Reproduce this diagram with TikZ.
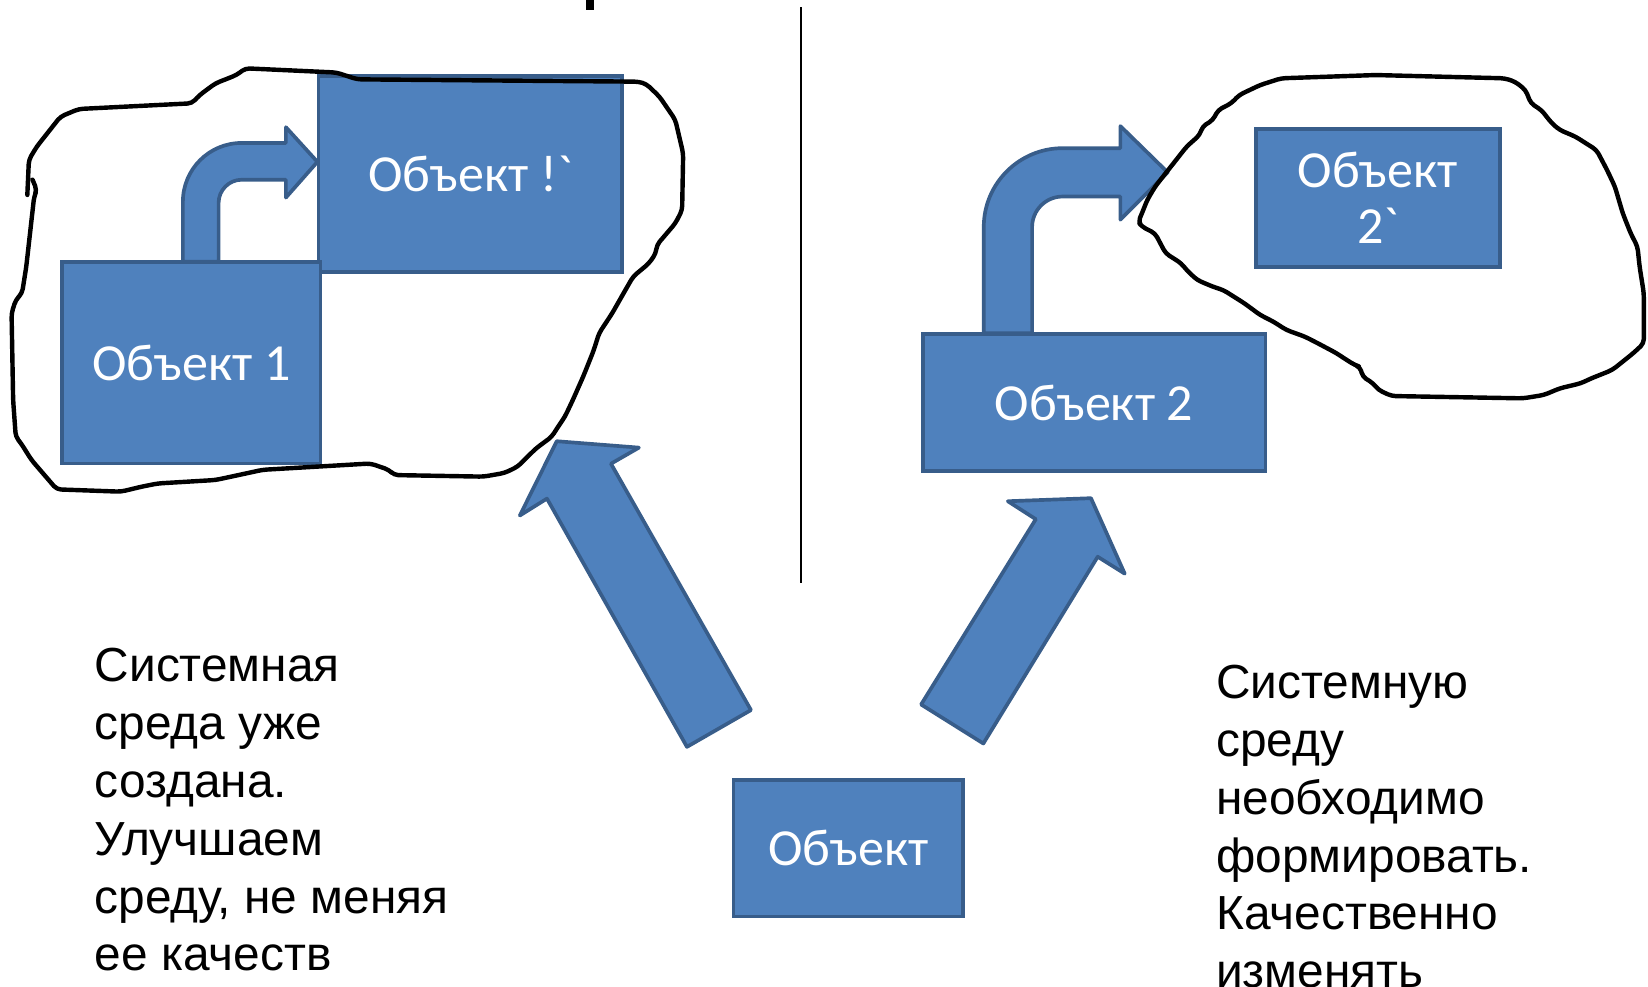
\documentclass[tikz,border=0pt]{standalone}
\usepackage{fontspec}
\setmainfont{Liberation Sans}
\newfontfamily\boxfont{Carlito}
\definecolor{ofill}{HTML}{4F81BD}
\definecolor{oline}{HTML}{385D8A}
\begin{document}
\begin{tikzpicture}[x=1pt,y=-1pt,
  obox/.style={draw=oline, fill=ofill, line width=3.5pt, text=white,
    font=\boxfont\fontsize{49.5}{53}\selectfont, inner sep=0pt, align=center},
  barrow/.style={draw=oline, fill=ofill, line width=3.5pt, line join=round},
  blob/.style={draw=black, line width=4.2pt, rounded corners=4pt, line join=round, line cap=round},
  note/.style={anchor=north west, inner sep=0pt, align=left,
    font=\fontsize{45.5}{55}\selectfont}]
\useasboundingbox (0,0) rectangle (1568,939);

% left part
\node[obox, minimum width=289pt, minimum height=187pt] (o1p) at (447.5,165.5) {Объект !`};
\draw[barrow] (174,249) -- (174,192) .. controls (174,161) and (199,136) .. (230,136)
  -- (272,136) -- (272,121) -- (302,154) -- (272,188) -- (272,171) -- (230,171)
  .. controls (217.8,171) and (208,181) .. (208,193) -- (208,249) -- cycle;
\node[obox, minimum width=246pt, minimum height=192pt] (o1) at (182,345) {Объект 1};

\draw[blob] (26,185.5) -- (27.5,152) -- (35,139.5) -- (50,120.5) -- (57.5,111) -- (75,103.7)
  -- (182.5,98.3) -- (190,90.4) -- (205,79.3) -- (225,71.4) -- (233.5,65)
  -- (320,69) -- (340,75.5) -- (607.5,77.7) -- (615,80) -- (627.5,92) -- (642.5,114)
  -- (650,146) -- (649,200) -- (642.5,212.5) -- (625,233) -- (624,241) -- (617.5,250.5)
  -- (602.5,263) -- (595,276) -- (582.5,298) -- (570,317) -- (565,333) -- (555,358)
  -- (545,380.6) -- (537.5,396.4) -- (530,407.5) -- (525,415.5) -- (510,426.6)
  -- (492.5,444) -- (480,450) -- (460,453.5) -- (375,452) -- (370,447) -- (352.5,441)
  -- (250,447) -- (220,453.5) -- (205,456.7) -- (150,460) -- (135,463) -- (115,467.8)
  -- (54,465.6) -- (30,437.7) -- (20,421.8) -- (15,415.5) -- (12.5,380.6) -- (11,298)
  -- (15,285.4) -- (21,279) -- (25,253.7) -- (32.5,187) -- (35,180.8) -- (31,171);

% right part
\draw[barrow] (936,317) -- (936,216) .. controls (936,174.6) and (969.6,141) .. (1011,141)
  -- (1066,141) -- (1066,120) -- (1111,164) -- (1066,209) -- (1066,187) -- (1011,187)
  .. controls (995,187) and (982,200) .. (982,216) -- (982,317) -- cycle;
\node[obox, minimum width=326pt, minimum height=130pt] (o2) at (1041,383) {Объект 2};
\node[obox, minimum width=232pt, minimum height=131pt] (o2p) at (1311,188.5) {Объект\\2`};

\draw[blob] (1219,74.5) -- (1309,71.4) -- (1431.5,74.5) -- (1441.5,77.7) -- (1451.5,85.6)
  -- (1456.5,98.3) -- (1466.5,104.7) -- (1476.5,117.3) -- (1484,123.7) -- (1499,130)
  -- (1509,136.4) -- (1519,142.7) -- (1529,161.7) -- (1536.5,177.6) -- (1544,203)
  -- (1551.5,222) -- (1558,234.7) -- (1560,253.7) -- (1564,279) -- (1564,326.7)
  -- (1554,336) -- (1534,352) -- (1514,360) -- (1504,364.7) -- (1484,369.5)
  -- (1469,375.8) -- (1449,379) -- (1324,376.8) -- (1311.5,371) -- (1306.5,364.7)
  -- (1296.5,358.4) -- (1294,349) -- (1289,347.3) -- (1279,341) -- (1271.5,336)
  -- (1254,326.7) -- (1241.5,320.3) -- (1224,314) -- (1211.5,306) -- (1199,299.7)
  -- (1184,288.6) -- (1164,276) -- (1154,272.8) -- (1139,266.4) -- (1129,257)
  -- (1124,250.6) -- (1109,241) -- (1104,231.5) -- (1099,222) -- (1086.5,215.7)
  -- (1083,211) -- (1086.5,203) -- (1091.5,190.3) -- (1099,177.6) -- (1111.5,161.7)
  -- (1116.5,155.4) -- (1129,139.5) -- (1141.5,128.4) -- (1144,120.5) -- (1154,114.2)
  -- (1159,104.7) -- (1171.5,98.3) -- (1179,90.4) -- (1199,80.9) -- cycle;

% bottom object and block arrows
\node[obox, minimum width=218pt, minimum height=130pt] (o) at (807,807) {Объект};
\draw[barrow] (529.7,419.8) -- (607.9,425.9) -- (581.3,441.2) -- (714.5,675.6)
  -- (653.6,710.6) -- (520.4,474.4) -- (494.6,490.5) -- cycle;
\draw[barrow] (1038,474) -- (1070.1,545.8) -- (1044.4,529.7) -- (935.6,707.4)
  -- (876.4,670.3) -- (985.5,494) -- (958.9,476.9) -- cycle;

% divider and fragment
\coordinate (dtop) at (762,7);
\coordinate (dbot) at (762,555);
\draw[line width=1.8pt] (dtop) -- (dbot);
\fill[black] (558,0) rectangle (565,9.5);

% notes
\node[note] (ltext) at (90,610) {\strut Системная\\среда уже\\создана.\\Улучшаем\\среду, не меняя\\ее качеств};
\node[note] (rtext) at (1157,626) {\strut Системную\\среду\\необходимо\\формировать.\\Качественно\\изменять};
\end{tikzpicture}
\end{document}
